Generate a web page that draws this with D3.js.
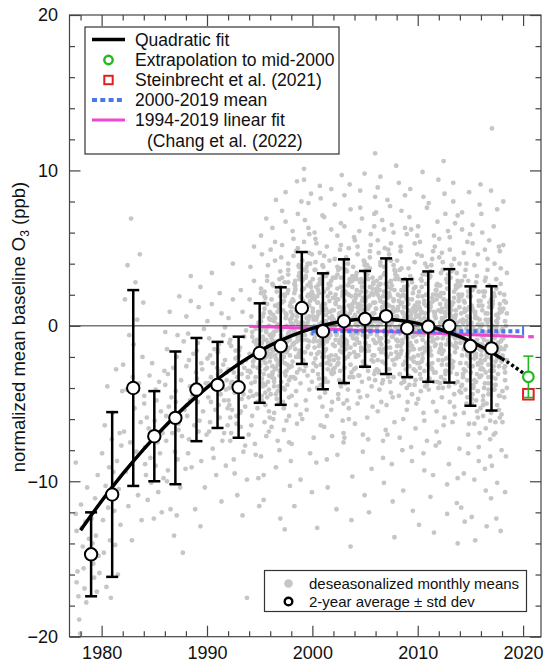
<!DOCTYPE html>
<html><head><meta charset="utf-8">
<script src="https://cdn.jsdelivr.net/npm/d3@7"></script>
<style>body{margin:0;background:#fff}svg{display:block;font-family:"Liberation Sans",Arial,Helvetica,sans-serif}</style>
</head><body><svg id="chart" width="546" height="663"></svg>
<script>
// ---------- data ----------
const scatterYears = [1977.5,1978,1979,1980,1981,1982,1983,1984,1985,1986,1987,1988,1989,1990,1991,1992,1993,1994,1995,1996,1997,1998,1999,2000,2001,2002,2003,2004,2005,2006,2007,2008,2009,2010,2011,2012,2013,2014,2015,2016,2017,2018];
const scatterMonthCount = [6,12,12,12,12,12,12,12,12,12,12,12,12,12,12,12,12,12,12,12,12,12,12,12,12,12,12,12,12,12,12,12,12,12,12,12,12,12,12,12,12,6];
const scatterValues = [
[-8.8,-13.2,-15.8,-17.4,-18.9,-19.8,-12.1,-16.5],
[-11.5,-13.0,-14.2,-15.6,-16.9,-12.6,-17.8,-10.4,-14.9,-13.7],
[-12.4,-14.0,-15.3,-16.2,-11.1,-13.5,-17.1,-9.6,-14.8,-15.9],
[-8.2,-12.5,-14.6,-6.4,-10.3,-16.8,-3.9,-11.7,-9.1,-13.8,-17.5,-7.3],
[-5.6,-9.4,-11.9,-14.1,-2.8,-8.7,-16.0,-10.5,-6.9,-12.8,-7.7,-4.2],
[-2.5,-6.8,1.7,-9.4,-4.1,3.9,-11.6,-0.6,-7.5,6.9,-13.8,-3.3],
[-1.2,-5.3,2.8,-8.1,0.4,-10.9,-3.7,4.6,-6.2,-12.5,-2.0,1.5],
[-4.5,-7.8,-9.6,-5.9,-11.2,-6.6,-3.2,-8.5,-10.1,-2.4,-7.2,-12.4,-5.0,-8.9],
[-6.1,-9.0,-4.8,-7.5,-10.7,-3.6,-8.2,-5.5,-12.0,-6.9,-9.8,-2.9,-7.0,-4.1],
[-3.8,-7.4,-1.5,-9.3,-5.2,0.9,-11.8,-4.6,-6.9,-2.7,-13.5,-8.1,-0.4,-5.8,-10.0,-3.1],
[-4.9,-2.0,-8.6,-6.3,1.9,-10.4,-3.5,-7.1,-14.6,-1.0,-5.4,-9.2,-4.2,-12.2,-0.6,-6.7],
[-2.6,-5.8,-0.5,-7.3,-3.9,1.6,-9.1,-4.5,-1.8,-6.4,-11.8,-3.0,0.6,-5.1,-8.2,-2.2,-4.8,3.2],
[-3.4,-1.1,-6.8,-4.3,2.5,-8.7,-2.8,-5.5,-0.2,-10.4,-3.7,-7.0,-1.6,-4.9,1.2,-6.1,-12.9,-2.4],
[-2.1,-4.6,-0.8,-6.2,-3.3,1.4,-7.9,-4.0,-1.5,-5.4,-9.6,-2.7,0.3,-3.7,-6.8,-1.9,-4.9,3.4,-2.4,-8.5],
[-3.1,-1.2,-5.9,-4.4,0.8,-7.4,-2.5,-4.8,-0.1,-9.0,-3.5,-6.4,-1.7,-5.1,2.1,-2.9,-11.3,-3.9,-0.6,-6.9,-2.2,-4.1,-3.0,-5.3,-1.5,-3.6],
[-2.8,-5.1,-0.9,-6.9,-3.6,1.7,-8.6,-4.3,-1.6,-5.8,-10.9,-2.4,0.5,-4.0,-7.4,-1.3,-5.4,4.0,-3.0,-9.5,-2.1,-6.3,-3.3,-2.0,-4.8,-1.1,-5.9,-3.7],
[-3.9,-1.4,-6.5,-4.7,0.9,-8.1,-2.7,-5.2,-0.3,-17.5,-3.3,-7.0,-1.9,-5.6,2.3,-3.1,-12.2,-4.4,-0.7,-7.7,-2.2,-9.9,-2.9,-4.6,-1.6,-3.8,-5.5,-2.4],
[-1.8,-4.2,0.6,-5.8,-2.6,2.9,-7.6,-3.3,-0.9,-4.9,-9.8,-1.5,1.7,-3.0,-6.4,-0.4,-4.5,5.1,-2.1,-8.3,-1.2,-5.3,0.2,-11.6,-2.9,3.8,-3.7,-0.7,-2.3,-1.0,-3.6,-0.2,-4.4,-2.7],
[-1.2,2.4,-4.8,0.6,-3.1,-6.2,1.8,-0.4,-2.7,3.9,-5.5,-1.9,0.2,-8.4,4.6,-2.2,-0.9,1.1,-3.8,-7.1,2.9,-1.5,-4.1,0.9,-2.6,5.8,-3.4,-0.1,-9.6,1.5,-5.1,-2.0,3.2,-1.1,-6.8,0.4,-3.0,2.1,-4.5,-0.7,-11.2,1.9,-2.4,6.9,-1.7,-3.6,0.0,-5.9,
 -2.9,-0.3,-1.4,-3.7,0.8,-2.1,-4.3,-0.9,1.4,-1.9,-3.2,-0.6,-2.5,0.3,-1.1,-3.9,-1.6,2.2,-2.8,-0.2,-4.6,-1.3,0.5,-2.3],
[0.8,-3.3,2.7,-1.0,-5.6,4.2,-2.1,-0.3,-7.4,1.4,-2.9,3.5,-4.4,-0.8,6.3,-1.6,-3.9,0.5,-9.1,2.2,-2.5,-5.0,1.0,-1.3,4.9,-6.5,-0.5,2.6,-3.6,-1.9,8.1,-4.7,0.1,-2.3,3.0,-12.4,-1.1,1.7,-3.1,-6.0,0.3,5.4,-2.7,-0.2,-4.2,1.2,-8.0,-1.4,
 -1.8,0.4,-2.6,-0.6,-3.4,1.3,-1.2,-2.2,0.0,-3.9,-0.9,1.9,-2.0,-1.5,-3.0,0.7,-0.4,-2.8,-4.4,-1.0,0.9,-1.7,-3.2,2.5],
[-0.6,3.1,-4.0,1.6,-2.4,6.7,-6.1,-1.0,2.3,-3.5,0.4,-8.7,4.4,-1.8,-0.1,-5.3,1.9,8.6,-2.9,-0.7,3.6,-4.6,-10.3,0.9,-2.0,5.2,-1.4,-6.7,2.8,-3.2,0.0,-1.6,4.0,-7.5,1.3,-2.6,-0.3,7.4,-4.9,2.0,-13.1,-1.2,0.7,-3.8,3.3,-5.8,-0.9,1.5,
 -0.2,-2.2,1.0,-1.1,-3.0,0.5,-1.7,2.1,-0.5,-2.7,-1.4,0.2,-3.6,1.5,-0.8,-2.0,-4.1,0.8,-1.0,-2.5,2.8,-0.4,-1.9,-3.3],
[1.2,-2.3,4.5,-0.4,2.9,-5.1,0.6,7.2,-1.8,3.4,-3.7,1.8,-7.6,0.1,5.6,-1.1,2.4,-4.2,9.3,-0.8,3.9,-2.8,-9.9,1.4,-0.2,6.1,-3.3,2.1,-1.5,4.8,-6.3,0.9,-2.0,3.0,-0.6,8.0,-4.5,1.7,-1.2,-11.6,2.6,0.3,-3.0,5.0,-0.9,1.0,-5.7,3.7,
 0.5,-1.2,1.6,-0.3,2.3,-2.0,0.9,-0.7,3.2,-1.6,0.2,1.3,-2.6,0.7,-0.5,2.7,-3.4,1.0,-1.0,0.1,3.8,-1.9,1.9,-0.1],
[2.3,-0.9,5.4,1.0,-2.6,3.8,0.2,7.9,-4.1,2.7,-0.1,4.6,-6.0,1.6,9.4,-1.7,3.2,0.5,-3.2,6.3,1.3,-8.2,2.0,-0.5,4.2,-2.2,10.1,0.8,-4.8,3.5,1.9,-1.3,5.9,-0.2,2.5,-10.7,1.1,3.0,-2.9,6.8,0.0,-5.4,4.0,1.4,-1.0,2.8,8.5,-3.6,
 1.5,0.2,2.4,-0.6,3.1,1.2,-1.4,2.0,0.6,4.0,-0.1,1.8,2.9,-2.3,0.9,3.6,1.0,-0.9,2.6,0.4,4.7,1.6,-1.8,2.2],
[0.9,-2.4,3.6,-0.6,5.3,-4.0,1.5,-1.3,2.8,-6.4,0.2,7.1,-2.9,1.8,-0.8,4.1,-8.8,0.6,2.3,-3.4,9.0,-1.1,3.3,-5.2,1.1,-0.3,6.0,-2.1,0.4,-13.0,2.6,-1.7,4.7,-3.8,1.3,-0.5,3.0,-7.2,0.0,5.6,-2.6,1.9,-1.0,2.1,-4.6,8.2,-0.2,3.9,
 0.6,-1.0,1.7,-0.2,2.5,-1.8,0.9,0.1,3.0,-2.5,1.2,-0.7,2.0,0.4,-1.4,3.6,-0.4,1.5,-3.1,0.8,2.7,-0.9,1.0,-2.0],
[-1.0,2.2,-3.6,0.7,-5.8,3.4,-0.4,1.6,-2.5,6.2,-7.1,0.3,-1.8,4.5,-4.3,1.1,-0.9,-10.4,2.7,-2.2,0.9,8.8,-3.1,-0.1,3.8,-6.5,1.4,-1.5,5.1,-2.8,-16.9,0.5,-0.6,2.9,-4.9,1.8,-1.2,7.0,-3.4,0.1,-8.6,2.4,-2.0,4.2,-0.3,-5.4,1.0,3.1,
 -0.5,1.0,-1.6,0.3,-2.4,1.9,-0.8,-0.1,2.6,-3.0,0.6,-1.2,1.4,-2.0,0.0,3.2,-1.0,-3.6,0.9,-0.3,2.1,-1.9,0.4,-2.8],
[0.4,-2.7,3.1,-0.5,5.8,-4.4,1.2,-1.6,2.5,9.7,-6.1,0.0,-2.2,4.3,-0.9,1.7,-8.3,3.6,-3.5,0.8,6.6,-1.3,2.0,-5.0,11.2,-0.2,1.4,-11.8,3.3,-2.4,0.6,4.9,-3.9,-0.7,2.2,-6.9,1.0,7.8,-1.9,-0.4,3.8,-4.7,0.3,-2.9,5.2,-1.1,1.9,-7.5,
 0.2,-1.3,1.5,-0.4,2.4,-2.1,0.8,-0.9,3.1,-1.7,0.5,1.2,-3.0,0.0,2.0,-0.6,-2.5,1.7,-1.1,3.7,-0.2,0.9,-3.6,1.1],
[1.6,-2.1,4.4,-0.3,2.6,-5.3,0.8,7.5,-3.0,1.2,-0.8,5.7,-7.2,2.2,-1.5,3.5,-4.1,0.1,9.1,-2.5,1.9,-9.7,3.0,-0.5,6.4,-3.7,0.6,-1.2,4.0,-6.0,2.8,-0.1,-12.5,1.4,3.8,-2.8,8.4,-0.9,2.1,-4.8,0.3,5.0,-1.8,-14.2,1.0,3.2,-3.3,0.5,
 0.9,-0.9,2.1,0.0,-2.0,1.3,3.0,-1.4,0.4,2.5,-0.4,1.6,-2.7,0.7,3.6,-1.0,0.2,2.0,-3.3,1.1,-0.6,2.9,0.5,-1.7],
[0.7,3.2,-1.9,5.1,-0.4,2.0,-4.6,1.3,6.9,-2.3,0.2,3.9,-6.3,1.8,-0.9,4.6,-3.2,0.5,8.7,-1.4,2.5,-8.1,1.0,-0.2,5.5,-2.7,3.0,-5.0,0.9,-1.1,7.6,2.2,-3.6,-0.6,4.2,-10.9,1.5,-2.0,3.4,0.0,-4.2,6.1,1.1,-1.6,2.8,-7.0,0.4,9.8,
 0.6,2.0,-0.8,1.2,-1.9,0.3,2.8,-0.3,1.6,-2.6,0.9,3.5,-1.2,0.1,2.3,-0.5,1.4,-3.2,0.4,3.0,-1.5,1.8,-0.1,4.1],
[1.0,-1.6,3.3,0.2,-3.4,4.8,-0.5,2.1,-5.2,1.5,6.4,-1.1,0.6,-2.6,3.9,-7.3,1.9,-0.2,5.2,-3.9,0.8,2.7,-1.9,11.1,-0.7,3.6,-5.9,1.2,-1.3,4.4,0.1,-9.2,2.4,-0.9,7.2,-2.9,1.6,0.4,-4.5,3.0,-12.0,1.3,5.9,-2.2,0.0,2.0,-3.1,8.3,
 0.5,1.8,-0.7,1.1,-1.6,2.5,0.2,-0.3,3.1,-2.3,0.8,1.5,-1.1,2.2,0.0,-2.9,1.3,3.7,-0.5,0.6,-1.9,2.8,0.3,-3.5],
[0.3,2.9,-2.2,4.7,-0.8,1.6,-4.9,6.8,0.9,-1.5,3.4,-6.7,1.1,-0.3,5.5,-3.0,2.3,9.6,-1.2,0.6,-8.5,3.8,-2.4,1.4,7.3,-0.1,-5.5,2.6,-1.0,4.1,0.2,-3.7,1.9,-10.1,5.0,-0.6,2.2,-2.8,8.9,0.5,-4.1,3.1,-1.7,1.0,-7.4,6.2,-0.4,2.7,
 1.1,-0.6,2.0,0.3,-1.5,2.7,0.7,-2.3,1.5,3.3,-0.3,0.9,-1.1,2.4,0.0,-2.9,1.8,3.9,-0.8,1.2,-3.5,2.2,0.5,-1.8],
[1.4,-2.0,4.3,0.0,2.8,-4.3,6.5,-0.7,1.7,-6.2,3.5,0.6,-1.4,8.1,-3.3,2.1,-0.2,5.3,-8.9,1.0,3.9,-2.5,0.4,10.3,-5.1,1.8,-1.0,4.6,-3.6,2.4,0.8,-11.3,6.0,-0.5,3.0,-2.1,1.3,-7.0,4.9,0.2,7.7,-1.8,2.6,-4.6,0.9,-13.6,3.3,-0.9,
 0.8,-0.5,2.1,1.3,-1.4,2.9,0.2,-2.2,1.6,3.6,-0.1,1.0,-1.0,2.5,0.5,-2.8,1.9,4.2,-0.7,1.2,-3.3,2.3,0.4,-1.7],
[0.6,-1.9,3.0,-0.5,4.8,-3.7,1.5,-6.0,2.3,0.1,-2.8,5.9,-0.9,1.2,-4.5,3.6,-1.3,7.4,-8.0,0.8,2.5,-2.3,0.3,-5.4,4.2,-0.2,9.2,-3.1,1.9,-1.6,2.9,-10.6,0.5,6.3,-0.7,-4.0,3.2,1.0,-2.0,-7.2,5.1,0.0,-1.1,2.0,-3.4,8.4,-0.4,1.7,
 0.4,-1.0,1.6,0.0,-1.8,2.3,0.9,-2.5,1.2,3.0,-0.6,0.6,-1.3,2.0,-0.2,-3.1,1.4,3.7,-0.9,0.8,-3.6,1.9,0.2,-2.0],
[-0.8,1.7,-2.6,3.2,0.0,-4.4,1.1,-1.5,5.3,-6.6,0.6,-0.3,2.6,-3.2,7.0,-1.1,0.9,-8.7,2.1,-2.0,4.1,-0.6,-5.0,1.5,-1.8,3.7,-3.8,0.3,6.2,-1.3,-11.9,2.4,-0.1,-2.9,1.0,4.6,-4.9,0.4,-1.6,8.8,-7.8,2.8,-0.4,-2.3,1.3,-3.5,0.7,5.8,
 -0.3,1.0,-1.3,0.5,-2.1,1.7,-0.7,-2.8,0.9,2.5,-1.0,0.2,-1.8,1.4,-0.5,-3.3,0.7,3.0,-1.5,0.4,-3.8,1.2,-0.1,-2.4],
[-0.5,2.2,-3.1,0.8,4.5,-1.8,-5.6,1.6,-0.2,3.3,-7.4,0.4,6.4,-2.4,1.1,-4.2,2.9,-0.9,8.3,-9.3,0.1,-1.4,3.8,-3.5,1.9,-12.8,5.4,-0.6,2.5,-2.1,0.0,-6.1,4.0,-1.1,7.6,1.3,-4.7,0.6,-2.7,3.0,-0.3,9.9,-8.2,1.4,-1.6,2.0,-3.8,0.2,
 -0.2,1.2,-1.5,0.4,-2.3,1.9,-0.6,-2.9,0.8,2.7,-1.1,0.3,-1.9,1.5,-0.4,-3.4,0.9,3.3,-1.4,0.5,-3.9,1.3,0.0,-2.5],
[0.3,-2.5,3.5,-0.7,1.8,-4.9,5.8,-1.3,0.5,-6.8,2.7,-0.1,7.9,-3.4,1.2,-1.9,4.3,-9.6,0.9,-0.5,2.3,-5.5,6.7,-2.2,0.0,3.1,-11.0,1.5,-1.0,4.8,-3.0,0.7,-7.7,2.0,-0.8,9.4,-4.1,1.0,-1.6,3.9,-2.8,0.2,-13.3,5.1,-0.3,1.7,-3.6,2.6,
 0.1,-1.4,1.3,-0.5,-2.4,2.0,-0.9,0.6,-3.0,2.6,-0.2,1.0,-1.8,0.3,3.2,-2.7,-0.6,1.6,-3.6,0.8,-1.2,2.3,-0.3,-4.0],
[-0.4,2.6,-3.3,1.1,4.1,-1.6,-5.9,0.6,3.0,-2.5,6.1,-0.2,-7.5,1.9,-1.2,4.7,-4.0,0.3,8.5,-2.9,1.4,-10.2,2.4,-0.7,5.6,-3.7,0.9,-1.8,3.6,-6.4,0.0,7.2,-2.1,1.6,-0.9,-8.9,4.4,-1.5,2.1,-4.6,0.4,10.6,-0.5,-3.1,1.2,-12.1,3.3,-1.0,
 -0.1,1.4,-1.4,0.5,-2.2,2.1,-0.6,0.8,-2.9,2.8,-0.3,1.1,-1.7,0.2,3.4,-2.5,-0.8,1.7,-3.5,0.9,-1.2,2.4,-0.4,-3.9],
[0.8,-2.2,3.9,-0.6,1.5,-5.2,6.6,-1.4,0.2,-3.6,2.8,-7.9,4.9,-0.3,1.0,-2.7,8.0,-4.4,0.5,-1.1,3.4,-9.8,2.0,-0.8,5.7,-3.0,1.3,-6.2,0.0,4.3,-1.7,2.4,-11.4,7.1,-0.4,1.8,-4.9,3.1,-2.4,0.6,9.2,-1.3,-5.7,2.6,-0.1,-14.0,1.6,4.0,
 0.3,-1.2,1.5,-0.4,-2.3,2.2,-0.8,0.7,-3.1,2.9,-0.1,1.2,-1.9,0.4,3.5,-2.6,-0.6,1.8,-3.7,1.0,-1.4,2.5,-0.2,-4.2],
[-1.1,1.9,-3.8,0.4,-5.6,3.2,-0.5,-2.4,5.4,-7.0,1.2,-1.5,2.6,-4.3,7.3,-0.8,-9.5,0.9,-2.9,4.0,-1.9,0.1,-6.3,2.3,-0.2,-11.7,6.2,-3.3,1.6,-1.0,3.6,-5.0,0.6,-8.2,8.6,-2.1,0.3,-3.9,2.0,-0.7,4.7,-12.6,-1.3,1.0,-4.6,2.9,-2.6,5.9,
 -0.7,0.8,-1.9,0.2,-2.8,1.5,-1.2,-0.2,-3.5,2.2,-0.9,0.5,-2.4,-0.4,2.9,-3.1,-1.5,1.1,-4.1,0.3,-1.8,1.9,-0.6,-4.6],
[-1.6,1.3,-4.4,-0.2,-6.3,2.5,-1.0,-3.1,4.6,-7.8,0.4,-2.2,1.9,-5.0,6.5,-1.4,-9.9,0.7,-3.6,3.2,-2.5,-0.5,-6.9,1.6,-1.1,-12.3,5.3,-4.0,0.9,-1.9,2.8,-5.5,0.1,-8.7,7.8,-2.8,-0.3,-4.7,1.1,-1.7,3.9,-13.8,-2.0,0.5,-5.9,2.2,-3.3,9.1,
 -1.4,0.2,-2.6,-0.5,-3.5,0.9,-1.8,-0.9,-4.2,1.6,-1.5,-0.1,-3.0,-1.1,2.3,-3.8,-2.1,0.5,-4.8,-0.3,-2.4,1.3,-1.2,-5.3],
[-1.9,1.0,-4.8,-0.6,2.9,-6.6,-1.3,4.3,-3.3,-0.1,-8.4,1.7,-2.4,6.0,-5.1,-0.9,2.2,-10.6,-1.6,3.6,-4.1,0.4,-7.3,8.7,-2.7,1.3,-5.8,-0.4,4.9,-3.0,-12.9,0.8,-1.2,2.6,-6.1,-2.1,7.2,-0.7,-4.5,1.9,-9.2,3.1,-1.8,0.2,-3.7,5.5,-2.9,-11.1,
 -1.6,0.1,-2.8,-0.6,-3.7,0.8,-2.0,-1.0,-4.4,1.5,-1.3,-0.2,-3.2,-1.2,2.2,-4.0,-2.2,0.4,-5.0,-0.4,-2.5,1.2,-1.1,-5.6],
[-1.2,1.6,-4.1,-0.3,-6.9,3.0,-2.0,0.5,-5.4,4.8,-1.5,-8.0,1.2,-2.9,6.4,-0.8,-3.8,2.4,-10.1,-1.1,0.8,-5.9,3.7,-2.3,12.7,-0.5,-7.0,1.9,-3.4,-12.4,0.2,-1.7,5.1,-4.5,2.7,-0.9,-9.0,1.4,-2.6,4.0,-6.2,-0.1,7.5,-3.1,-1.4,2.1,-13.2,0.9,
 -1.7,0.0,-2.9,-0.7,-3.8,0.7,-2.1,-1.1,-4.5,1.4,-1.4,-0.3,-3.3,-1.3,2.1,-4.1,-2.3,0.3,-5.1,-0.5,-2.6,1.1,-1.0,-5.7],
[-2.0,1.1,-4.6,0.3,-1.3,3.4,-6.2,-0.6,2.0,-3.5,-8.4,0.8,-1.9,5.2,-2.7,-10.7,1.5,-4.0,-0.2,8.0,-1.5,-3.0,0.0,-2.2,-4.2,-0.8,1.6,-2.6]
];

// 2-year averages ± std dev
const avgYears = [1979,1981,1983,1985,1987,1989,1991,1993,1995,1997,1999,2001,2003,2005,2007,2009,2011,2013,2015,2017];
const avgMeans = [-14.7,-10.85,-4.0,-7.1,-5.92,-4.1,-3.8,-3.95,-1.75,-1.3,1.15,-0.35,0.3,0.45,0.62,-0.15,-0.05,0.0,-1.3,-1.45];
const avgSD    = [2.7,5.3,6.3,2.9,4.27,3.32,2.77,3.25,3.2,3.78,3.6,3.73,3.98,3.08,3.72,3.15,3.55,3.65,3.84,4.0];

// quadratic fit
const fitYears  = [1978,1980,1982,1984,1986,1988,1990,1992,1994,1996,1998,2000,2002,2004,2006,2008,2010,2012,2014,2016,2018];
const fitValues = [-13.15,-11.27,-9.53,-7.93,-6.47,-5.15,-3.97,-2.93,-2.02,-1.26,-0.64,-0.16,0.18,0.39,0.45,0.37,0.16,-0.2,-0.7,-1.33,-2.11];
const extrapYears  = [2018,2019,2020.5];
const extrapValues = [-2.11,-2.55,-3.27];

// extrapolation to mid-2000 and Steinbrecht
const extrapPoint = {year: 2020.5, value: -3.28, sd: 1.33};
const steinPoint  = {year: 2020.5, value: -4.4};

// 2000-2019 mean
const meanYears = [2000, 2020];
const meanValue = -0.35;
// 1994-2019 linear fit (Chang et al.)
const changYears  = [1994, 2020.1];
const changValues = [-0.02, -0.7];
const changExtrap = {year: 2020.75, value: -0.7};

// axis ticks
const xMajor = [1980,1990,2000,2010,2020];
const xMinor = [1978,1982,1984,1986,1988,1992,1994,1996,1998,2002,2004,2006,2008,2012,2014,2016,2018];
const yMajor = [-20,-10,0,10,20];
const yMinor = [-18,-16,-14,-12,-8,-6,-4,-2,2,4,6,8,12,14,16,18];

const legendLabels = ["Quadratic fit","Extrapolation to mid-2000","Steinbrecht et al. (2021)","2000-2019 mean","1994-2019 linear fit","(Chang et al. (2022)"];
const legend2Labels = ["deseasonalized monthly means","2-year average \u00b1 std dev"];

// ---------- drawing ----------
const svg = d3.select("#chart");
const L = 69.5, R = 541, T = 15, B = 636.7;
const x = d3.scaleLinear().domain([1976.95, 2021.7]).range([L, R]);
const y = d3.scaleLinear().domain([-20, 20]).range([B, T]);

const GRAY = "#c6c6c6", GREEN = "#22b822", RED = "#e02020", BLUE = "#4a78ec", MAG = "#f046d2";

svg.append("rect").attr("width",546).attr("height",663).attr("fill","#fff");

// scatter
const pts = [];
scatterYears.forEach((yr, k) => {
  const m = scatterMonthCount[k];
  scatterValues[k].forEach((v, i) => pts.push({t: yr + ((i % m) + 0.5) / 12, v}));
});
svg.append("g").selectAll("circle").data(pts).join("circle")
  .attr("cx", d => x(d.t)).attr("cy", d => y(d.v)).attr("r", 2.4).attr("fill", GRAY);

// zero line
svg.append("line").attr("x1", L).attr("x2", R).attr("y1", y(0)).attr("y2", y(0))
  .attr("stroke", "#333").attr("stroke-width", 1);

// Chang linear fit
svg.append("line").attr("x1", x(changYears[0])).attr("x2", x(changYears[1]))
  .attr("y1", y(changValues[0])).attr("y2", y(changValues[1]))
  .attr("stroke", MAG).attr("stroke-width", 3);
svg.append("rect").attr("x", x(changExtrap.year) - 2.8).attr("y", y(changExtrap.value) - 1.6)
  .attr("width", 5.6).attr("height", 3.2).attr("fill", MAG);

// 2000-2019 mean
svg.append("line").attr("x1", x(meanYears[0])).attr("x2", x(meanYears[1]))
  .attr("y1", y(meanValue)).attr("y2", y(meanValue))
  .attr("stroke", BLUE).attr("stroke-width", 4).attr("stroke-dasharray", "4,3");
meanYears.forEach(t => svg.append("line").attr("x1", x(t)).attr("x2", x(t))
  .attr("y1", y(meanValue) - 6).attr("y2", y(meanValue) + 4).attr("stroke", BLUE).attr("stroke-width", 2));

// error bars
const avg = avgYears.map((t, i) => ({t, m: avgMeans[i], s: avgSD[i]}));
const eb = svg.append("g").attr("stroke", "#000").attr("stroke-width", 2.5);
avg.forEach(d => {
  eb.append("line").attr("x1", x(d.t)).attr("x2", x(d.t)).attr("y1", y(d.m + d.s)).attr("y2", y(d.m - d.s));
  [d.m + d.s, d.m - d.s].forEach(v => eb.append("line").attr("x1", x(d.t) - 6).attr("x2", x(d.t) + 6).attr("y1", y(v)).attr("y2", y(v)));
});

// quadratic fit
const line = d3.line().x(d => x(d[0])).y(d => y(d[1])).curve(d3.curveNatural);
svg.append("path").attr("d", line(fitYears.map((t, i) => [t, fitValues[i]])))
  .attr("fill", "none").attr("stroke", "#000").attr("stroke-width", 3.5);
svg.append("path").attr("d", line(extrapYears.map((t, i) => [t, extrapValues[i]])))
  .attr("fill", "none").attr("stroke", "#000").attr("stroke-width", 3.5).attr("stroke-dasharray", "3,2.6");

// 2-year circles
svg.append("g").selectAll("circle").data(avg).join("circle")
  .attr("cx", d => x(d.t)).attr("cy", d => y(d.m)).attr("r", 6.2)
  .attr("fill", "#fff").attr("stroke", "#000").attr("stroke-width", 2);

// Steinbrecht square
svg.append("rect").attr("x", x(steinPoint.year) - 5.3).attr("y", y(steinPoint.value) - 5.3)
  .attr("width", 10.6).attr("height", 10.6).attr("fill", "none").attr("stroke", RED).attr("stroke-width", 2);
// extrapolation point with bar
const ex = extrapPoint;
const gg = svg.append("g").attr("stroke", GREEN).attr("stroke-width", 1.6);
gg.append("line").attr("x1", x(ex.year)).attr("x2", x(ex.year)).attr("y1", y(ex.value + ex.sd)).attr("y2", y(ex.value - ex.sd));
[ex.value + ex.sd, ex.value - ex.sd].forEach(v => gg.append("line").attr("x1", x(ex.year) - 5).attr("x2", x(ex.year) + 5).attr("y1", y(v)).attr("y2", y(v)));
svg.append("circle").attr("cx", x(ex.year)).attr("cy", y(ex.value)).attr("r", 5.3)
  .attr("fill", "#fff").attr("stroke", GREEN).attr("stroke-width", 2.2);

// frame & axes
svg.append("rect").attr("x", L).attr("y", T).attr("width", R - L).attr("height", B - T)
  .attr("fill", "none").attr("stroke", "#444").attr("stroke-width", 1.2);

function styleAxis(g) {
  g.select(".domain").remove();
  g.selectAll(".tick line").attr("stroke", "#444").attr("stroke-width", 1.2);
  g.selectAll("text").attr("font-size", 18).attr("fill", "#111")
    .attr("font-family", "'Liberation Sans', Arial, sans-serif");
}
svg.append("g").attr("transform", `translate(0,${B})`)
  .call(d3.axisBottom(x).tickValues(xMajor).tickSize(-11).tickPadding(10).tickFormat(d3.format("d"))).call(styleAxis);
svg.append("g").attr("transform", `translate(0,${B})`)
  .call(d3.axisBottom(x).tickValues(xMinor).tickSize(-5.5).tickFormat("")).call(styleAxis);
svg.append("g").attr("transform", `translate(0,${T})`)
  .call(d3.axisTop(x).tickValues(xMajor).tickSize(-11).tickFormat("")).call(styleAxis);
svg.append("g").attr("transform", `translate(0,${T})`)
  .call(d3.axisTop(x).tickValues(xMinor).tickSize(-5.5).tickFormat("")).call(styleAxis);
svg.append("g").attr("transform", `translate(${L},0)`)
  .call(d3.axisLeft(y).tickValues(yMajor).tickSize(-11).tickPadding(11.5).tickFormat(d3.format("d"))).call(styleAxis);
svg.append("g").attr("transform", `translate(${L},0)`)
  .call(d3.axisLeft(y).tickValues(yMinor).tickSize(-5.5).tickFormat("")).call(styleAxis);
svg.append("g").attr("transform", `translate(${R},0)`)
  .call(d3.axisRight(y).tickValues(yMajor).tickSize(-11).tickFormat("")).call(styleAxis);
svg.append("g").attr("transform", `translate(${R},0)`)
  .call(d3.axisRight(y).tickValues(yMinor).tickSize(-5.5).tickFormat("")).call(styleAxis);

// y title
const yt = svg.append("text").attr("transform", "translate(25,327) rotate(-90)")
  .attr("text-anchor", "middle").attr("font-size", 18.5).attr("fill", "#111");
yt.append("tspan").text("normalized mean baseline O");
yt.append("tspan").attr("font-size", 12).attr("dy", 4).text("3");
yt.append("tspan").attr("dy", -4).text(" (ppb)");

// legend 1
const lg = svg.append("g");
lg.append("rect").attr("x", 85).attr("y", 27).attr("width", 254).attr("height", 127)
  .attr("fill", "#fff").attr("stroke", "#333").attr("stroke-width", 1.2);
const rows = [39.5, 60, 80, 100, 120, 140.5];
lg.append("line").attr("x1", 92).attr("x2", 125).attr("y1", rows[0]).attr("y2", rows[0]).attr("stroke", "#000").attr("stroke-width", 3.5);
lg.append("circle").attr("cx", 108.5).attr("cy", rows[1]).attr("r", 4.2).attr("fill", "#fff").attr("stroke", GREEN).attr("stroke-width", 2.4);
lg.append("rect").attr("x", 104.3).attr("y", rows[2] - 4.2).attr("width", 8.4).attr("height", 8.4).attr("fill", "#fff").attr("stroke", RED).attr("stroke-width", 2);
lg.append("line").attr("x1", 92).attr("x2", 125).attr("y1", rows[3]).attr("y2", rows[3]).attr("stroke", BLUE).attr("stroke-width", 4).attr("stroke-dasharray", "5,3.3");
lg.append("line").attr("x1", 92).attr("x2", 125).attr("y1", rows[4]).attr("y2", rows[4]).attr("stroke", MAG).attr("stroke-width", 3);
legendLabels.forEach((s, i) => lg.append("text").attr("x", i === 5 ? 147 : 135).attr("y", rows[i] + 6.3)
  .attr("font-size", 17.5).attr("fill", "#111").text(s));

// legend 2
const lg2 = svg.append("g");
lg2.append("rect").attr("x", 264.5).attr("y", 570.5).attr("width", 262).attr("height", 41)
  .attr("fill", "#fff").attr("stroke", "#333").attr("stroke-width", 1.2);
lg2.append("circle").attr("cx", 288.5).attr("cy", 583.5).attr("r", 4.3).attr("fill", GRAY);
lg2.append("circle").attr("cx", 288.5).attr("cy", 601.5).attr("r", 3.8).attr("fill", "#fff").attr("stroke", "#000").attr("stroke-width", 2.4);
legend2Labels.forEach((s, i) => lg2.append("text").attr("x", 309).attr("y", [583.5, 601.5][i] + 5.2)
  .attr("font-size", 15).attr("fill", "#111").text(s));
</script></body></html>
